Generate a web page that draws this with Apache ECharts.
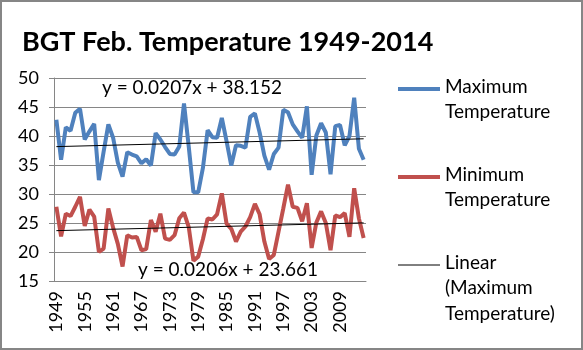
<!DOCTYPE html>
<html>
<head>
<meta charset="utf-8">
<script src="https://cdn.jsdelivr.net/npm/echarts@6/dist/echarts.min.js"></script>
<style>
  html, body { margin: 0; padding: 0; background: #fff; }
  #main { width: 583px; height: 350px; }
</style>
</head>
<body>
<div id="main"></div>
<script>
// years on the category axis
var years = [];
for (var y = 1949; y <= 2014; y++) years.push(String(y));

// February maximum temperature
var maxTemp = [42.8, 35.9, 41.5, 40.9, 44.0, 44.7, 39.4, 40.8, 42.1, 32.4,
               37.3, 42.0, 39.7, 35.4, 33.0, 37.2, 36.8, 36.5, 35.3, 36.0,
               34.9, 40.5, 39.4, 38.1, 36.9, 36.8, 38.2, 45.6, 38.2, 30.3,
               30.3, 34.5, 41.0, 39.8, 39.7, 43.1, 39.1, 34.9, 38.4, 38.3,
               38.0, 43.3, 43.9, 40.6, 36.6, 34.2, 36.9, 38.0, 44.5, 44.1,
               42.0, 40.8, 39.7, 45.1, 33.3, 40.1, 42.2, 40.6, 33.4, 41.7,
               41.9, 38.4, 40.0, 46.6, 37.8, 35.9];

// February minimum temperature
var minTemp = [27.8, 22.7, 26.6, 26.2, 27.8, 29.5, 24.5, 27.3, 26.1, 20.0,
               20.6, 27.5, 24.2, 21.4, 17.5, 22.9, 22.5, 22.6, 20.3, 20.5,
               25.5, 23.5, 26.6, 22.3, 22.1, 22.9, 25.8, 26.8, 24.3, 18.5,
               19.2, 22.2, 25.8, 25.6, 26.5, 30.1, 24.9, 24.0, 21.8, 23.5,
               24.4, 26.0, 28.3, 26.5, 21.8, 18.8, 19.5, 23.5, 27.5, 31.6,
               27.8, 27.6, 25.3, 28.4, 20.7, 25.1, 27.0, 25.0, 20.3, 26.3,
               26.0, 26.7, 22.6, 31.0, 25.8, 22.4];

// linear trend end points (from the fitted equations shown on the chart)
var maxTrend = [38.17, 39.52];
var minTrend = [23.68, 25.02];
var maxEq = 'y = 0.0207x + 38.152';
var minEq = 'y = 0.0206x + 23.661';

var blue = '#4F81BD', red = '#C0504D', gridGray = '#868686';
var font = 'Lato, "Liberation Sans", sans-serif';

var chart = echarts.init(document.getElementById('main'));

function legendEntry(y, color, width, lines) {
    var items = [{
        type: 'line',
        shape: { x1: 398, y1: y, x2: 440, y2: y },
        style: { stroke: color, lineWidth: width }
    }];
    for (var i = 0; i < lines.length; i++) {
        items.push({
            type: 'text', left: 445, top: y - 12 + i * 25.5,
            style: { text: lines[i], font: '19px ' + font, fill: '#000' }
        });
    }
    return items;
}

var option = {
    animation: false,
    grid: { left: 54, right: 217, top: 78, bottom: 69 },
    xAxis: {
        type: 'category',
        data: years,
        boundaryGap: true,
        axisLine: { lineStyle: { color: gridGray, width: 1 } },
        axisTick: { interval: 0, length: 5, lineStyle: { color: gridGray } },
        axisLabel: { interval: 5, rotate: 90, margin: 10, fontSize: 18, fontFamily: font, color: '#000' }
    },
    yAxis: {
        type: 'value',
        min: 15, max: 50, interval: 5,
        axisLine: { show: true, lineStyle: { color: gridGray, width: 1 } },
        axisTick: { show: true, length: 5, lineStyle: { color: gridGray } },
        axisLabel: { margin: 15, fontSize: 18, fontFamily: font, color: '#000' },
        splitLine: { lineStyle: { color: gridGray, width: 1 } }
    },
    series: [
        {
            name: 'Maximum Temperature', type: 'line', data: maxTemp,
            symbol: 'none', lineStyle: { color: blue, width: 4 }, itemStyle: { color: blue }
        },
        {
            name: 'Minimum Temperature', type: 'line', data: minTemp,
            symbol: 'none', lineStyle: { color: red, width: 4 }, itemStyle: { color: red }
        },
        {
            name: 'Linear (Maximum Temperature)', type: 'line',
            data: [[years[0], maxTrend[0]], [years[years.length - 1], maxTrend[1]]],
            symbol: 'none', silent: true, lineStyle: { color: '#000', width: 1 }
        },
        {
            name: 'Linear (Minimum Temperature)', type: 'line',
            data: [[years[0], minTrend[0]], [years[years.length - 1], minTrend[1]]],
            symbol: 'none', silent: true, lineStyle: { color: '#000', width: 1 }
        }
    ],
    graphic: [
        {
            type: 'rect', shape: { x: 1, y: 1, width: 581, height: 348 },
            style: { fill: 'none', stroke: gridGray, lineWidth: 2 }, z: 100
        },
        {
            type: 'text', left: 22, top: 29,
            style: { text: 'BGT Feb. Temperature 1949-2014', font: 'bold 27px ' + font, fill: '#000' }
        },
        {
            type: 'text', x: 192, y: 88,
            style: { text: maxEq, font: '19px ' + font, fill: '#000', align: 'center', verticalAlign: 'middle' }
        },
        {
            type: 'text', x: 228, y: 270,
            style: { text: minEq, font: '19px ' + font, fill: '#000', align: 'center', verticalAlign: 'middle' }
        }
    ]
        .concat(legendEntry(89, blue, 4, ['Maximum', 'Temperature']))
        .concat(legendEntry(177, red, 4, ['Minimum', 'Temperature']))
        .concat(legendEntry(265, '#000', 1, ['Linear', '(Maximum', 'Temperature)']))
};

chart.setOption(option);
</script>
</body>
</html>
